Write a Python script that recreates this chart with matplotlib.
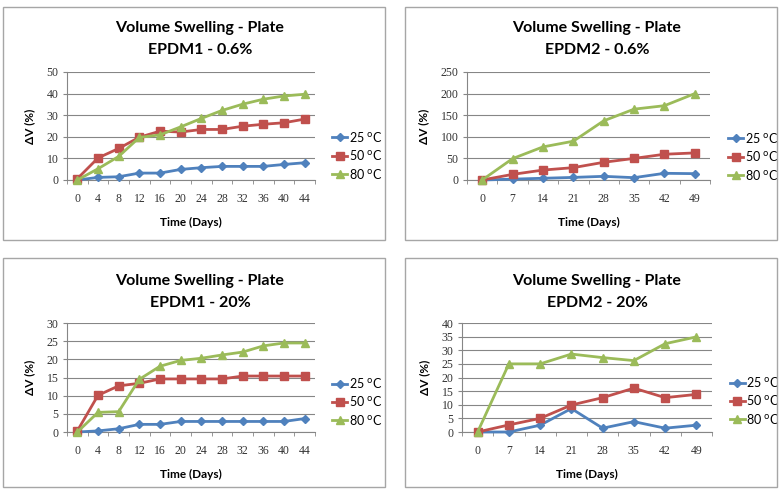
import matplotlib
matplotlib.use("Agg")
import matplotlib.pyplot as plt
from matplotlib.patches import Rectangle

# days
days_44 = [0, 4, 8, 12, 16, 20, 24, 28, 32, 36, 40, 44]
days_49 = [0, 7, 14, 21, 28, 35, 42, 49]

temps = ["25", "50", "80"]

# EPDM1 - 0.6%
epdm1_06_25 = [0, 1.2, 1.5, 3.2, 3.2, 4.9, 5.7, 6.3, 6.3, 6.3, 7.2, 8.0]
epdm1_06_50 = [0.6, 10.2, 14.6, 19.8, 22.6, 22.2, 23.4, 23.4, 24.9, 25.8, 26.5, 28.2]
epdm1_06_80 = [0, 5.2, 10.9, 19.7, 20.9, 24.6, 28.5, 32.2, 35.1, 37.4, 38.9, 39.7]

# EPDM2 - 0.6%
epdm2_06_25 = [0, 2, 4, 6, 8.5, 5.4, 15.5, 14.7]
epdm2_06_50 = [0, 13, 23, 28.6, 41, 50, 59.6, 62.7]
epdm2_06_80 = [0, 49.5, 76.6, 89.8, 137, 164, 172, 200]

# EPDM1 - 20%
epdm1_20_25 = [0, 0.3, 0.9, 2.1, 2.1, 2.9, 2.9, 2.9, 2.9, 2.9, 2.9, 3.7]
epdm1_20_50 = [0.3, 10.1, 12.7, 13.4, 14.6, 14.6, 14.6, 14.6, 15.4, 15.4, 15.4, 15.4]
epdm1_20_80 = [0, 5.4, 5.6, 14.5, 18.1, 19.7, 20.3, 21.2, 22.0, 23.7, 24.5, 24.5]

# EPDM2 - 20%
epdm2_20_25 = [0, 0, 2.5, 8.6, 1.4, 3.8, 1.4, 2.5]
epdm2_20_50 = [0, 2.6, 5.0, 9.9, 12.6, 16.1, 12.6, 13.8]
epdm2_20_80 = [0, 25, 25, 28.6, 27.3, 26.2, 32.4, 34.9]

W, H = 780, 490
colors = ["#4F81BD", "#C0504D", "#9BBB59"]
markers = ["D", "s", "^"]
msizes = [4.5, 6, 6]

fig = plt.figure(figsize=(7.8, 4.9), dpi=100)
fig.patch.set_facecolor("white")


def box(x0, y0, x1, y1):
    fig.patches.append(Rectangle((x0 / W, 1 - y1 / H), (x1 - x0) / W, (y1 - y0) / H,
                                 transform=fig.transFigure, fill=False,
                                 edgecolor="#A6A6A6", lw=1.0))


def panel(rect, title, days, series, ymax, ystep, legx, legy, titley, tcx):
    x0, y0, x1, y1 = rect
    ax = fig.add_axes([x0 / W, 1 - y1 / H, (x1 - x0) / W, (y1 - y0) / H])
    n = len(days)
    pos = list(range(n))
    for i, vals in enumerate(series):
        ax.plot(pos, vals, color=colors[i], marker=markers[i], markersize=msizes[i],
                lw=2, label=temps[i] + r" $^{\mathrm{o}}$C", clip_on=False, zorder=3)
    ax.set_xlim(-0.5, n - 0.5)
    ax.set_ylim(0, ymax)
    ax.set_yticks(range(0, ymax + 1, ystep))
    ax.set_xticks(pos)
    ax.set_xticklabels([str(d) for d in days], family="Liberation Serif", fontsize=8.5, color="#333333")
    for lb in ax.get_yticklabels():
        lb.set_family("Liberation Serif")
        lb.set_fontsize(8.5)
        lb.set_color("#333333")
    ax.set_xticks([p - 0.5 for p in pos] + [n - 0.5], minor=True)
    ax.tick_params(axis="x", which="major", length=0, pad=9)
    ax.tick_params(axis="x", which="minor", length=3, color="#868686")
    ax.tick_params(axis="y", length=3, color="#868686", pad=3)
    ax.grid(axis="y", color="#868686", lw=0.8)
    ax.set_axisbelow(True)
    for s in ["top", "right"]:
        ax.spines[s].set_visible(False)
    for s in ["left", "bottom"]:
        ax.spines[s].set_color("#868686")
    ax.set_xlabel("Time (Days)", family="Lato", fontweight="bold", fontsize=8.5, labelpad=9)
    ax.set_ylabel(r"ΔV (%)", family="Lato", fontweight="bold", fontsize=8.5, labelpad=8)
    fig.text(tcx / W, 1 - titley / H, title, family="Lato", fontweight="bold",
             fontsize=11.5, ha="center", va="center", linespacing=1.65)
    ax.legend(loc="center left", bbox_to_anchor=(legx, legy), frameon=False,
              handlelength=1.2, handletextpad=0.1, labelspacing=0.35,
              borderaxespad=0, prop={"family": "Lato", "size": 9})
    return ax


box(3, 7, 385, 240)
box(405, 7, 777, 240)
box(3, 258, 385, 487)
box(405, 258, 777, 487)

panel((67, 72, 315, 180), "Volume Swelling - Plate\nEPDM1 - 0.6%", days_44,
      [epdm1_06_25, epdm1_06_50, epdm1_06_80], 50, 10, 1.05, 0.23, 39, 200)
panel((467, 72, 710, 180), "Volume Swelling - Plate\nEPDM2 - 0.6%", days_49,
      [epdm2_06_25, epdm2_06_50, epdm2_06_80], 250, 50, 1.055, 0.22, 39, 597)
panel((67, 323, 315, 432), "Volume Swelling - Plate\nEPDM1 - 20%", days_44,
      [epdm1_20_25, epdm1_20_50, epdm1_20_80], 30, 5, 1.05, 0.28, 292, 200)
panel((462, 323, 712, 432), "Volume Swelling - Plate\nEPDM2 - 20%", days_49,
      [epdm2_20_25, epdm2_20_50, epdm2_20_80], 40, 5, 1.05, 0.29, 292, 597)

plt.savefig("out.png", dpi=100, facecolor="white")
